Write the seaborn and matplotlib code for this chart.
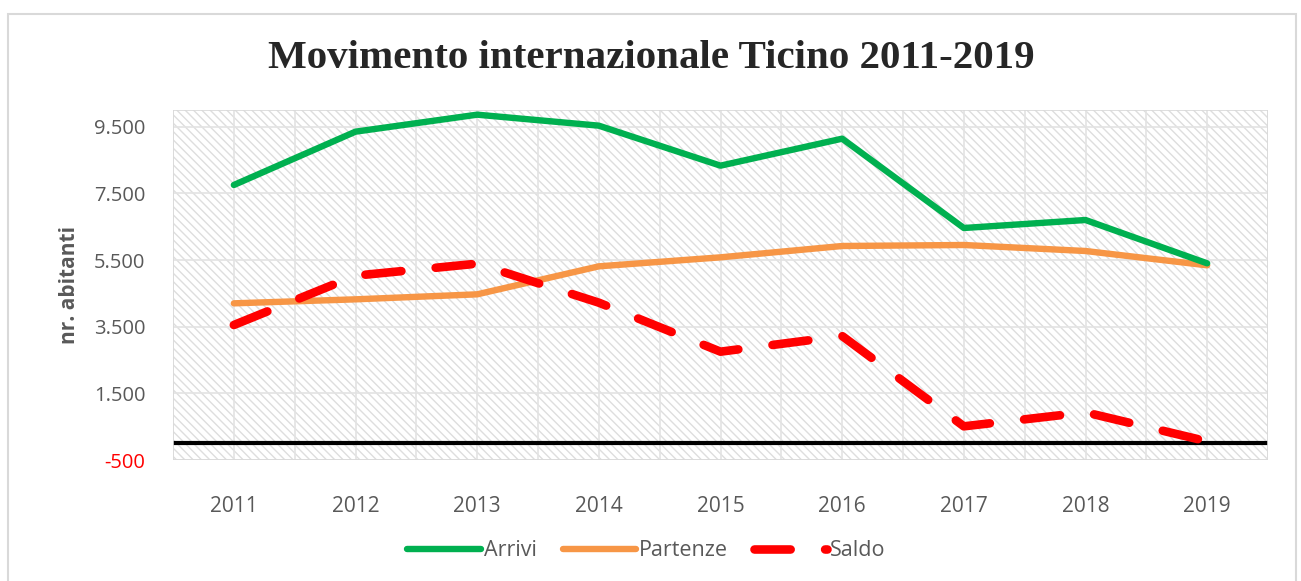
import matplotlib
matplotlib.use("Agg")
import matplotlib.pyplot as plt
from matplotlib.patches import Rectangle
from matplotlib.lines import Line2D
import seaborn as sns
import pandas as pd

anni = ["2011", "2012", "2013", "2014", "2015", "2016", "2017", "2018", "2019"]
arrivi = [7750, 9350, 9860, 9530, 8330, 9140, 6460, 6700, 5400]
partenze = [4200, 4320, 4470, 5310, 5580, 5920, 5950, 5770, 5340]
saldo = [3550, 5030, 5390, 4220, 2750, 3220, 510, 930, 60]
yticks = [-500, 1500, 3500, 5500, 7500, 9500]

df = pd.DataFrame({"pos": range(len(anni)), "Arrivi": arrivi,
                   "Partenze": partenze, "Saldo": saldo})

sns.set_theme(style="white")
plt.rcParams["font.family"] = ["Open Sans", "DejaVu Sans"]

fig = plt.figure(figsize=(13.01, 5.81), dpi=100)
ax = fig.add_axes([173 / 1301, 1 - 460 / 581, (1268 - 173) / 1301, (460 - 110) / 581])

# sfondo tratteggiato
plt.rcParams["hatch.color"] = "#dedede"
plt.rcParams["hatch.linewidth"] = 1.0
ax.add_patch(Rectangle((0, 0), 1, 1, transform=ax.transAxes, facecolor="white",
                       edgecolor="#dedede", hatch="\\\\\\\\", lw=0, zorder=0))
ax.set_facecolor("white")

# griglia
for v in yticks:
    ax.axhline(v, color="#e3e3e3", lw=1.2, zorder=1)
for i in range(len(anni) * 2 + 1):
    ax.axvline(-0.5 + i * 0.5, color="#e3e3e3", lw=1.2, zorder=1)
ax.axhline(0, color="black", lw=3, zorder=2)

sns.lineplot(data=df, x="pos", y="Arrivi", ax=ax, color="#00b050", lw=4.6,
             solid_capstyle="round", solid_joinstyle="round", zorder=4)
sns.lineplot(data=df, x="pos", y="Partenze", ax=ax, color="#f79646", lw=4.6,
             solid_capstyle="round", solid_joinstyle="round", zorder=3)
sns.lineplot(data=df, x="pos", y="Saldo", ax=ax, color="#ff0000", lw=6.2,
             linestyle=(0, (4.2, 4.0)), dash_capstyle="round", zorder=5)

ax.set_xlim(-0.5, len(anni) - 0.5)
ax.set_ylim(-500, 10000)
ax.set_xticks(range(len(anni)))
ax.set_xticklabels(anni)
ax.set_yticks(yticks)
ax.set_yticklabels([f"{v:,}".replace(",", ".") for v in yticks])
ax.tick_params(axis="x", length=0, pad=26, labelsize=15, labelcolor="#595959")
ax.tick_params(axis="y", length=0, pad=20, labelsize=14.5, labelcolor="#595959")
ax.get_yticklabels()[0].set_color("red")
ax.set_xlabel("")
ax.set_ylabel("nr. abitanti", fontsize=15, fontweight="bold", color="#595959", labelpad=10)
ax.grid(False)
for s in ax.spines.values():
    s.set_visible(False)
ax.add_patch(Rectangle((0, 0), 1, 1, transform=ax.transAxes, fill=False,
                       edgecolor="#d9d9d9", lw=1.2, zorder=6))

fig.text(0.501, 1 - 58 / 581, "Movimento internazionale Ticino 2011-2019",
         ha="center", va="center", fontsize=29.5, fontweight="bold",
         family=["Liberation Serif", "DejaVu Serif"])

# bordo del grafico
fig.add_artist(Rectangle((8 / 1301, -0.05), (1296 - 8) / 1301, 1.05 - 14 / 581,
                         transform=fig.transFigure, fill=False,
                         edgecolor="#d9d9d9", lw=1.5))

handles = [
    Line2D([], [], color="#00b050", lw=4.6, solid_capstyle="round"),
    Line2D([], [], color="#f79646", lw=4.6, solid_capstyle="round"),
    Line2D([], [], color="#ff0000", lw=6.2, linestyle=(0, (4.2, 4.0)), dash_capstyle="round"),
]
leg = fig.legend(handles, ["Arrivi", "Partenze", "Saldo"], loc="center",
                 bbox_to_anchor=(0.497, 1 - 551 / 581), ncol=3, frameon=False,
                 fontsize=15.5, handlelength=3.4, handletextpad=0.15, columnspacing=1.2)
for t in leg.get_texts():
    t.set_color("#595959")

fig.savefig("out.png", dpi=100)
